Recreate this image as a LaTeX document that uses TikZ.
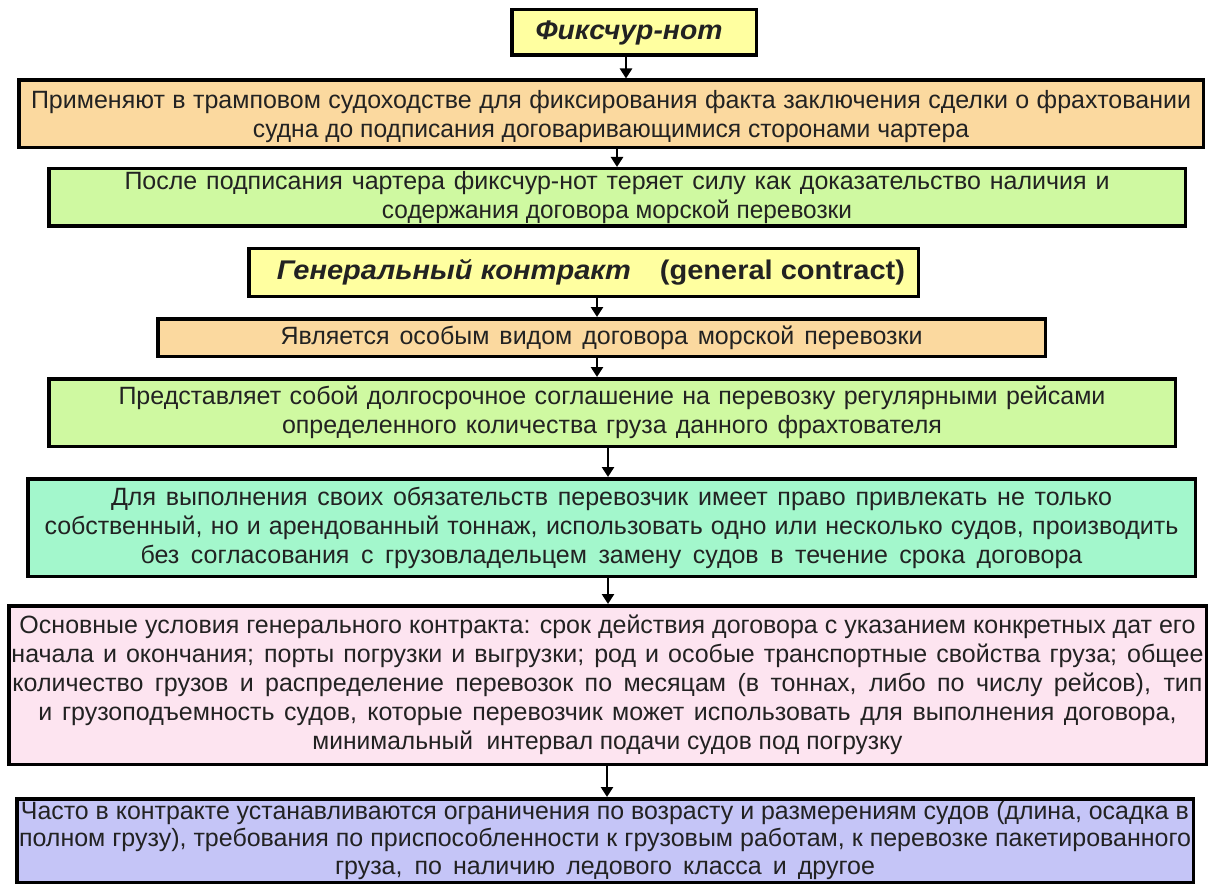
\documentclass[tikz,border=0pt]{standalone}
\usepackage{fontspec}
\setmainfont{Liberation Sans}
\usepackage{graphicx}
\usetikzlibrary{arrows.meta}
\definecolor{cyel}{HTML}{FFFFA0}
\definecolor{corg}{HTML}{FBD99F}
\definecolor{cgrn}{HTML}{CFF9A1}
\definecolor{cteal}{HTML}{A3F7CC}
\definecolor{cpink}{HTML}{FDE4F0}
\definecolor{cblue}{HTML}{C5C5F7}
\definecolor{ctext}{HTML}{222222}
\newcommand\fitline[2]{\sbox0{#2}\ifdim\wd0>#1pt\relax\resizebox{#1pt}{\height}{#2}\else\makebox[#1pt][s]{#2}\fi}
\newcommand\fitc[2]{\resizebox{#1pt}{\height}{#2}}
\begin{document}
\begin{tikzpicture}[x=1pt,y=-1pt,
  box/.style={draw=black, line width=3.5pt, inner sep=0pt, text=ctext,
    font=\fontsize{25}{29}\selectfont, align=center},
  ttl/.style={box, font=\fontsize{27}{29}\selectfont\bfseries},
  arr/.style={-{Triangle[width=12pt,length=10pt]}, line width=2.5pt, draw=black}]
\useasboundingbox (0,0) rectangle (1209,885);
\fill[white] (0,0) rectangle (1209,885);

\node[ttl, fill=cyel, minimum width=244.5pt, minimum height=45.5pt] (b1) at (634,32.5)
  {\hspace*{-10pt}\fitc{187}{\itshape Фиксчур-нот}};

\node[box, fill=corg, minimum width=1184.5pt, minimum height=67.5pt, text depth=0pt] (b2) at (611,114)
  {\fitline{1160}{Применяют в трамповом судоходстве для фиксирования факта заключения сделки о фрахтовании}\\
   \fitline{716}{судна до подписания договаривающимися сторонами чартера}};

\node[box, fill=cgrn, minimum width=1136.5pt, minimum height=57.5pt] (b3) at (617,197.5)
  {\fitline{985}{После подписания чартера фиксчур-нот теряет силу как доказательство наличия и}\\
   \fitline{470}{содержания договора морской перевозки}};

\node[ttl, fill=cyel, minimum width=669.5pt, minimum height=47.5pt] (b4) at (583.5,272.5)
  {\hspace*{15pt}\fitc{628}{\itshape Генеральный контракт\quad\upshape (general contract)}};

\node[box, fill=corg, minimum width=887.5pt, minimum height=37.5pt] (b5) at (601.5,337.5)
  {\fitline{642}{Является особым видом договора морской перевозки}};

\node[box, fill=cgrn, minimum width=1126.5pt, minimum height=67.5pt] (b6) at (612,412.5)
  {\fitline{987}{Представляет собой долгосрочное соглашение на перевозку регулярными рейсами}\\
   \fitline{660}{определенного количества груза данного фрахтователя}};

\node[box, fill=cteal, minimum width=1167.5pt, minimum height=97.5pt] (b7) at (611.5,527.5)
  {\fitline{1001}{Для выполнения своих обязательств перевозчик имеет право привлекать не только}\\
   \fitline{1134}{собственный, но и арендованный тоннаж, использовать одно или несколько судов, производить}\\
   \fitline{942}{без согласования с грузовладельцем замену судов в течение срока договора}};

\node[box, fill=cpink, minimum width=1197.5pt, minimum height=158.5pt] (b8) at (607.5,685)
  {\fitline{1176}{Основные условия генерального контракта: срок действия договора с указанием конкретных дат его}\\
   \fitline{1192}{начала и окончания; порты погрузки и выгрузки; род и особые транспортные свойства груза; общее}\\
   \fitline{1190}{количество грузов и распределение перевозок по месяцам (в тоннах, либо по числу рейсов), тип}\\
   \fitline{1138}{и грузоподъемность судов, которые перевозчик может использовать для выполнения договора,}\\
   \fitline{590}{минимальный\ \ интервал подачи судов под погрузку}};

\node[box, fill=cblue, minimum width=1176.5pt, minimum height=83.5pt,
      font=\fontsize{25}{27.5}\selectfont] (b9) at (605,840.5)
  {\fitline{1168}{Часто в контракте устанавливаются ограничения по возрасту и размерениям судов (длина, осадка в}\\
   \fitline{1172}{полном грузу), требования по приспособленности к грузовым работам, к перевозке пакетированного}\\
   \fitline{540}{груза, по наличию ледового класса и другое}};

\draw[arr] (b1.south -| 626,0) -- (b2.north -| 626,0);
\draw[arr] (b2.south -| 617,0) -- (b3.north -| 617,0);
\draw[arr] (b4.south -| 597,0) -- (b5.north -| 597,0);
\draw[arr] (b5.south -| 597,0) -- (b6.north -| 597,0);
\draw[arr] (b6.south -| 608,0) -- (b7.north -| 608,0);
\draw[arr] (b7.south -| 608,0) -- (b8.north -| 608,0);
\draw[arr] (b8.south -| 607,0) -- (b9.north -| 607,0);
\end{tikzpicture}
\end{document}
